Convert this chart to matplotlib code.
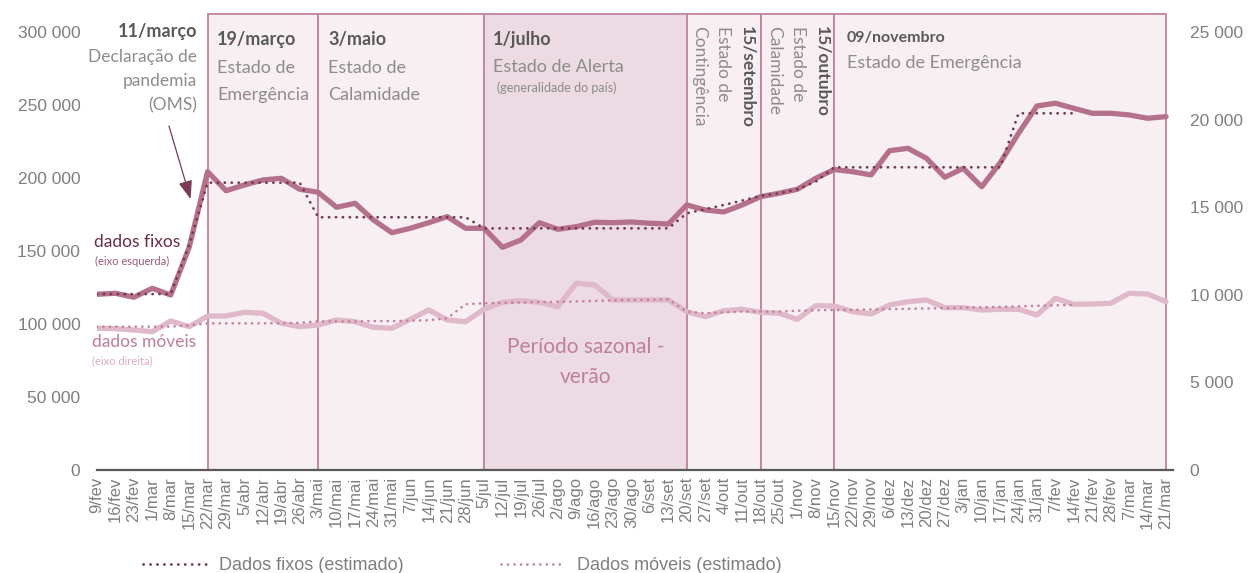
import numpy as np
import matplotlib
matplotlib.use('Agg')
import matplotlib.pyplot as plt
from matplotlib.patches import Rectangle
from matplotlib.ticker import FuncFormatter

# semanas (eixo x)
semanas = ['9/fev', '16/fev', '23/fev', '1/mar', '8/mar', '15/mar', '22/mar', '29/mar', '5/abr', '12/abr',
           '19/abr', '26/abr', '3/mai', '10/mai', '17/mai', '24/mai', '31/mai', '7/jun', '14/jun', '21/jun',
           '28/jun', '5/jul', '12/jul', '19/jul', '26/jul', '2/ago', '9/ago', '16/ago', '23/ago', '30/ago',
           '6/set', '13/set', '20/set', '27/set', '4/out', '11/out', '18/out', '25/out', '1/nov', '8/nov',
           '15/nov', '22/nov', '29/nov', '6/dez', '13/dez', '20/dez', '27/dez', '3/jan', '10/jan', '17/jan',
           '24/jan', '31/jan', '7/fev', '14/fev', '21/fev', '28/fev', '7/mar', '14/mar', '21/mar']

# dados fixos (eixo esquerda)
fixos = [120340, 121030, 118290, 124450, 119860, 152530, 204310, 191300, 195200, 198630,
         199790, 192260, 190200, 179930, 182670, 171230, 162530, 165550, 169380, 173490,
         165550, 165550, 152530, 157530, 169380, 164860, 166640, 169660, 169380, 169860,
         168970, 168490, 181510, 178080, 176710, 181510, 187190, 189520, 192260, 199790,
         205800, 204300, 202100, 218700, 220300, 213500, 200500, 206600, 194000, 210300,
         230600, 249300, 251200, 247700, 244300, 244300, 243200, 240900, 242000]
nan = np.nan
fixos_est = [120500] * 5 + [154100] + [196800] * 6 + [173100] * 9 + [165500] * 11 + \
            [175800, 178600, 181500, 184500, 187700, 189500, 192300, 197500] + \
            [207300] * 10 + [244300] * 4 + [nan] * 5

# dados móveis (eixo direita)
moveis = [8088, 8065, 7991, 7894, 8505, 8180, 8790, 8790, 9002, 8944,
          8374, 8180, 8277, 8562, 8465, 8145, 8088, 8602, 9133, 8562,
          8465, 9173, 9572, 9664, 9572, 9321, 10657, 10560, 9704, 9704,
          9704, 9704, 9036, 8750, 9093, 9173, 9002, 8944, 8602, 9378,
          9361, 9036, 8904, 9418, 9607, 9704, 9264, 9264, 9133, 9173,
          9173, 8847, 9801, 9458, 9475, 9515, 10086, 10046, 9607]
moveis_est = [8180] * 5 + [8250] + [8370] * 5 + [8400] + [8480, 8480, 8480, 8500, 8500, 8520, 8550, 8660] + \
             [9460, 9515, 9540, 9560, 9580, 9600, 9620, 9650, 9680, 9700, 9720, 9740] + \
             [9040, 8945, 9000, 9040, 9040, 9040, 9090, 9115, 9133] + \
             [9140, 9160, 9180, 9200, 9220, 9240, 9260, 9290, 9310, 9340, 9370, 9400, 9420] + [nan] * 5

# períodos (início, fim, sombreado escuro?)
periodo_ini = ['22/mar', '3/mai', '5/jul', '20/set', '18/out', '15/nov']
periodo_fim = ['3/mai', '5/jul', '20/set', '18/out', '15/nov', '21/mar']
periodo_escuro = [False, False, True, False, False, False]

W, H = 1248, 573
fig = plt.figure(figsize=(W / 100, H / 100), dpi=100)
ax = fig.add_axes([97 / W, 1 - 470 / H, (1173 - 97) / W, (470 - 14) / H])
ax2 = ax.twinx()

x = np.arange(len(semanas))
ytop = 312300
ax.set_xlim(0, 58.38)
ax.set_ylim(0, ytop)
ax2.set_ylim(0, ytop / 12)

# periodos sombreados
borda = '#c283a0'
for ini, fim, escuro in zip(periodo_ini, periodo_fim, periodo_escuro):
    a, b = semanas.index(ini), semanas.index(fim)
    cor = '#ecdbe2' if escuro else '#f7eff2'
    ax.add_patch(Rectangle((a, 0), b - a, ytop, facecolor=cor, edgecolor=borda,
                           linewidth=1.3, zorder=0.5, clip_on=False))

# linhas
ax.plot(x, fixos, color='#b5708c', lw=3.8, solid_capstyle='round', solid_joinstyle='round', zorder=3)
l1, = ax.plot(x, fixos_est, color='#73384f', lw=2.0, linestyle=(0, (0.05, 2.45)),
              dash_capstyle='round', zorder=4)
ax2.plot(x, moveis, color='#dfb9c9', lw=3.8, solid_capstyle='round', solid_joinstyle='round', zorder=3)
l2, = ax2.plot(x, moveis_est, color='#c4809d', lw=1.9, linestyle=(0, (0.05, 2.4)),
               dash_capstyle='round', zorder=4)

# eixos
fmt = FuncFormatter(lambda v, p: f'{v:,.0f}'.replace(',', ' '))
ax.set_yticks(np.arange(0, 300001, 50000))
ax2.set_yticks(np.arange(0, 25001, 5000))
ax.yaxis.set_major_formatter(fmt)
ax2.yaxis.set_major_formatter(fmt)
ax.set_xticks(x)
ax.set_xticklabels(semanas, rotation=90, fontsize=12, family='Liberation Sans', color='#7f7f7f')
ax.tick_params(axis='x', length=0, pad=5)
ax.tick_params(axis='y', length=0, pad=12, labelsize=12.5, labelcolor='#7f7f7f')
ax2.tick_params(axis='y', length=0, pad=12, labelsize=12.5, labelcolor='#7f7f7f')
for t in ax.get_yticklabels() + ax2.get_yticklabels():
    t.set_family('Liberation Sans')
for a_ in (ax, ax2):
    for s in a_.spines.values():
        s.set_visible(False)
ax.spines['bottom'].set_visible(True)
ax.spines['bottom'].set_color('#595959')
ax.spines['bottom'].set_linewidth(1.6)
ax.spines['bottom'].set_zorder(2.5)


def txt(px, py, s, **kw):
    kw.setdefault('family', 'Lato')
    fig.text(px / W, 1 - py / H, s, **kw)


escuro_txt = '#595959'
cinza = '#8c8c8c'

# 11/março
txt(197, 37, '11/março', ha='right', fontsize=13, weight='bold', color=escuro_txt)
for yy, s in zip([62, 86, 110], ['Declaração de', 'pandemia', '(OMS)']):
    txt(197, yy, s, ha='right', fontsize=12.5, color=cinza)
ax.annotate('', xy=(190.5 / W, 1 - 199 / H), xytext=(169 / W, 1 - 126 / H),
            xycoords='figure fraction', textcoords='figure fraction',
            arrowprops=dict(arrowstyle='-|>,head_length=0.8,head_width=0.3', color='#7a3a57',
                            lw=0.9, shrinkA=0, shrinkB=0, mutation_scale=14))

# 19/março, 3/maio
txt(217, 45, '19/março', fontsize=13, weight='bold', color=escuro_txt)
txt(217, 73, 'Estado de', fontsize=13, color=cinza)
txt(217, 100, 'Emergência', fontsize=13, color=cinza)
txt(328, 45, '3/maio', fontsize=13, weight='bold', color=escuro_txt)
txt(328, 73, 'Estado de', fontsize=13, color=cinza)
txt(328, 100, 'Calamidade', fontsize=13, color=cinza)

# 1/julho
txt(493, 45, '1/julho', fontsize=13, weight='bold', color=escuro_txt)
txt(493, 72, 'Estado de Alerta', fontsize=13, color=cinza)
txt(497, 92, '(generalidade do país)', fontsize=9, color=cinza)

# verticais
for cx, s, w in [(699, 'Contingência', 'normal'), (723, 'Estado de', 'normal'),
                 (747, '15/setembro', 'bold'), (774, 'Calamidade', 'normal'),
                 (798, 'Estado de', 'normal'), (822, '15/outubro', 'bold')]:
    txt(cx, 26, s, rotation=270, ha='center', va='top', fontsize=12.5, weight=w,
        color=escuro_txt if w == 'bold' else cinza)

# 09/novembro
txt(847, 42, '09/novembro', fontsize=11.5, weight='bold', color=escuro_txt)
txt(847, 68, 'Estado de Emergência', fontsize=13, color=cinza)

# período sazonal
txt(586, 353, 'Período sazonal -', ha='center', fontsize=15, color='#c0809b')
txt(586, 383, 'verão', ha='center', fontsize=15, color='#c0809b')

# rótulos das séries
txt(94, 247, 'dados fixos', fontsize=12.5, color='#6b2c48')
txt(95, 265, '(eixo esquerda)', fontsize=8, color='#9b5a7a')
txt(92, 347, 'dados móveis', fontsize=12.5, color='#c27b9a')
txt(92, 364, '(eixo direita)', fontsize=8, color='#e3a9c2')

# legenda
leg = fig.legend([l1, l2], ['Dados fixos (estimado)', 'Dados móveis (estimado)'], ncol=2,
                 frameon=False, loc='center', bbox_to_anchor=(462 / W, 1 - 566 / H),
                 handlelength=3.5, handletextpad=0.7, columnspacing=5.4,
                 prop={'family': 'Liberation Sans', 'size': 13}, labelcolor='#7f7f7f')

plt.savefig('out.png', dpi=100)
